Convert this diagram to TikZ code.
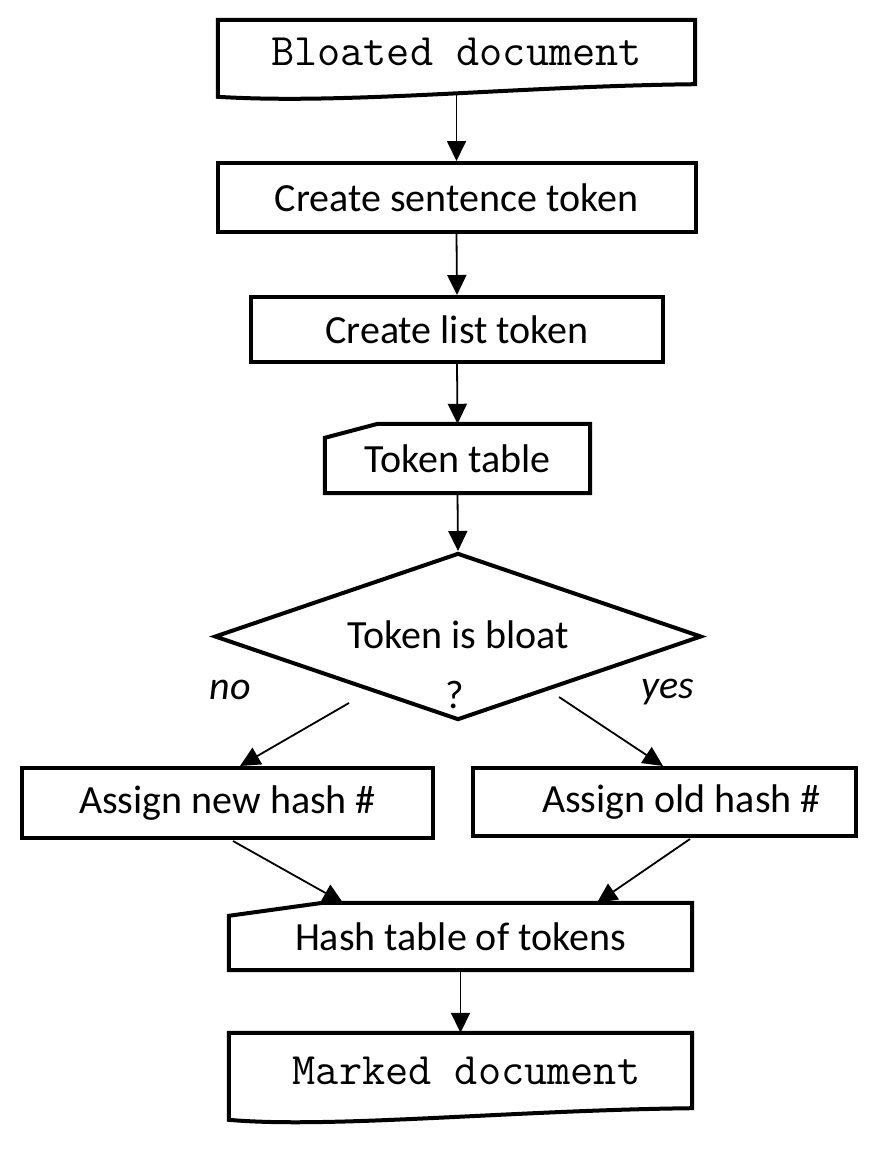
\documentclass[tikz,border=0pt]{standalone}
\usepackage{fontspec}
\setmainfont{Carlito}
\usetikzlibrary{calc,arrows.meta,shapes.geometric}

\begin{document}
\begin{tikzpicture}[x=1pt,y=-1pt,
  font=\fontsize{40}{48}\selectfont,
  box/.style={inner sep=0pt},
  procbox/.style={box,draw,line width=4pt},
  doctext/.style={box,font=\fontsize{45}{54}\selectfont\ttfamily},
  answer/.style={font=\fontsize{40}{48}\selectfont\itshape},
  outline/.style={line width=4pt},
  flow/.style={line width=1.8pt,-{Triangle[width=19pt,length=20pt]}}]
\useasboundingbox (0,0) rectangle (878,1156);
% documents and tables
\node[doctext,minimum width=477pt,minimum height=64pt] (bloated) at (456.5,52) {Bloated document};
\draw[outline] (bloated.north east) -- (bloated.north west) -- ++(0,77)
  .. controls +(130,8) and +(-180,2) .. (bloated.south east) -- cycle;
\coordinate (bloatedbot) at (456.5,95);
\node[procbox,minimum width=478pt,minimum height=69pt] (sentence) at (456.5,197.5) {Create sentence token};
\node[procbox,minimum width=412pt,minimum height=65pt] (list) at (457,329.5) {Create list token};
\node[box,minimum width=265pt,minimum height=69pt] (tokentab) at (457.5,458.5) {Token table};
\draw[outline] ($(tokentab.north west)+(0,14)$) -- ($(tokentab.north west)+(53,0)$) -- (tokentab.north east)
  -- (tokentab.south east) -- (tokentab.south west) -- cycle;
% decision
\node[diamond,draw,line width=4pt,aspect=2.9,inner sep=0pt,minimum width=487pt,minimum height=167pt] (bloat) at (458,636.5) {\raisebox{3pt}{Token is bloat}};
\node (qmark) at (455,695) {?};
\node[answer] (no) at (230,690) {no};
\node[answer] (yes) at (668,692) {yes};
\node[procbox,minimum width=411pt,minimum height=70pt] (newhash) at (227.5,803) {Assign new hash \#};
\node[procbox,minimum width=383pt,minimum height=68pt] (oldhash) at (664.5,802) {\hspace*{34pt}Assign old hash \#};
\node[box,minimum width=463pt,minimum height=67pt] (hashtab) at (460.5,936.5) {Hash table of tokens};
\draw[outline] ($(hashtab.north west)+(0,13)$) -- ($(hashtab.north west)+(94,0)$) -- (hashtab.north east)
  -- (hashtab.south east) -- (hashtab.south west) -- cycle;
\node[doctext,minimum width=463pt,minimum height=75pt] (marked) at (460.5,1070.5) {\hspace*{12pt}Marked document};
\draw[outline] (marked.north east) -- (marked.north west) -- ++(0,87)
  .. controls +(100,9) and +(-180,2) .. (marked.south east) -- cycle;
% arrows
\coordinate (nofrom) at (349,703);
\coordinate (yesfrom) at (559,697);
\coordinate (newfrom) at (233,841);
\coordinate (oldfrom) at (690,839);
\draw[flow] (bloatedbot) -- (sentence.north);
\draw[flow] (sentence.south) -- (list.north);
\draw[flow] (list.south) -- (tokentab.north);
\draw[flow] (tokentab.south) -- (bloat.north);
\draw[flow] (nofrom) -- ($(newhash.north)+(12.5,0)$);
\draw[flow] (yesfrom) -- ($(oldhash.north)+(-1.5,0)$);
\draw[flow] (newfrom) -- ($(hashtab.north)+(-117.5,0)$);
\draw[flow] (oldfrom) -- ($(hashtab.north)+(136.5,0)$);
\draw[flow] (hashtab.south) -- (marked.north);
\end{tikzpicture}
\end{document}
